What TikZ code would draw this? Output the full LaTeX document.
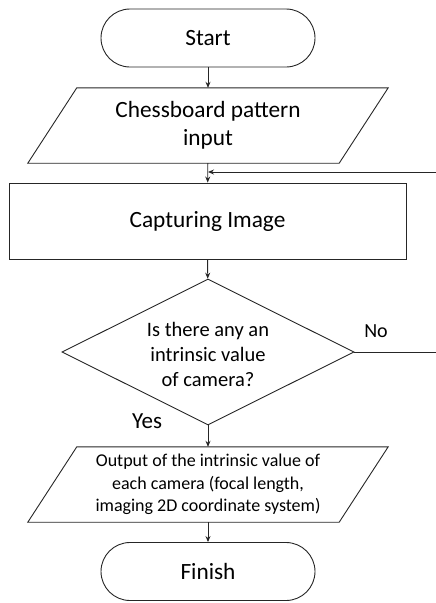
\documentclass[tikz,border=0pt]{standalone}
\usepackage{fontspec}
\setmainfont{Carlito}
\usetikzlibrary{shapes.geometric,arrows.meta}
\begin{document}
\begin{tikzpicture}[x=1pt,y=-1pt,
  line/.style={draw=black!85,line width=0.9pt},
  conn/.style={line,-{Stealth[length=6pt,width=5pt]}},
  term/.style={line,rectangle,rounded corners=29pt,minimum width=214pt,minimum height=58pt,inner sep=0pt,font=\fontsize{23.3}{27}\selectfont},
  io/.style={rectangle,minimum width=262pt,minimum height=75pt,inner sep=0pt,align=center},
  proc/.style={line,rectangle,minimum width=397pt,minimum height=76pt,inner sep=0pt,font=\fontsize{23.3}{27}\selectfont},
  dec/.style={line,diamond,minimum width=292pt,minimum height=146pt,inner sep=0pt},
  dectext/.style={inner sep=0pt,align=center,font=\fontsize{20.5}{25}\selectfont},
  lbl/.style={inner sep=0pt}]
\useasboundingbox (0,0) rectangle (436,603);
\node[term] (start) at (208,38) {Start};
\node[io,font=\fontsize{23.3}{28}\selectfont] (input) at (208,125.5) {Chessboard pattern\\input};
\draw[line] (input.north west) -- ([xshift=49pt]input.north east)
  -- (input.south east) -- ([xshift=-49pt]input.south west) -- cycle;
\node[proc] (cap) at (207.5,221) {Capturing Image};
\node[dec] (dec) at (208,352) {};
\node[dectext] (dect) at (208,354) {Is there any an\\intrinsic value\\of camera?};
\node[io,font=\fontsize{18}{22.5}\selectfont] (out) at (208,484.5) {Output of the intrinsic value of\\each camera (focal length,\\imaging 2D coordinate system)};
\draw[line] (out.north west) -- ([xshift=49pt]out.north east)
  -- (out.south east) -- ([xshift=-49pt]out.south west) -- cycle;
\node[term] (fin) at (208,571.5) {Finish};
\node[lbl,font=\fontsize{20}{24}\selectfont] (no) at (376,331) {No};
\node[lbl,font=\fontsize{23}{27}\selectfont] (yes) at (147,421) {Yes};
\coordinate (r1) at (436.5,352);
\coordinate (r2) at (436.5,172);
\coordinate (m) at (208,172);
\draw[conn] (start) -- (input);
\draw[conn] (input) -- (cap);
\draw[conn] (cap) -- (dec);
\draw[conn] (dec) -- (out);
\draw[conn] (out) -- (fin);
\draw[conn] (dec.east) -- (r1) -- (r2) -- (m);
\end{tikzpicture}
\end{document}
